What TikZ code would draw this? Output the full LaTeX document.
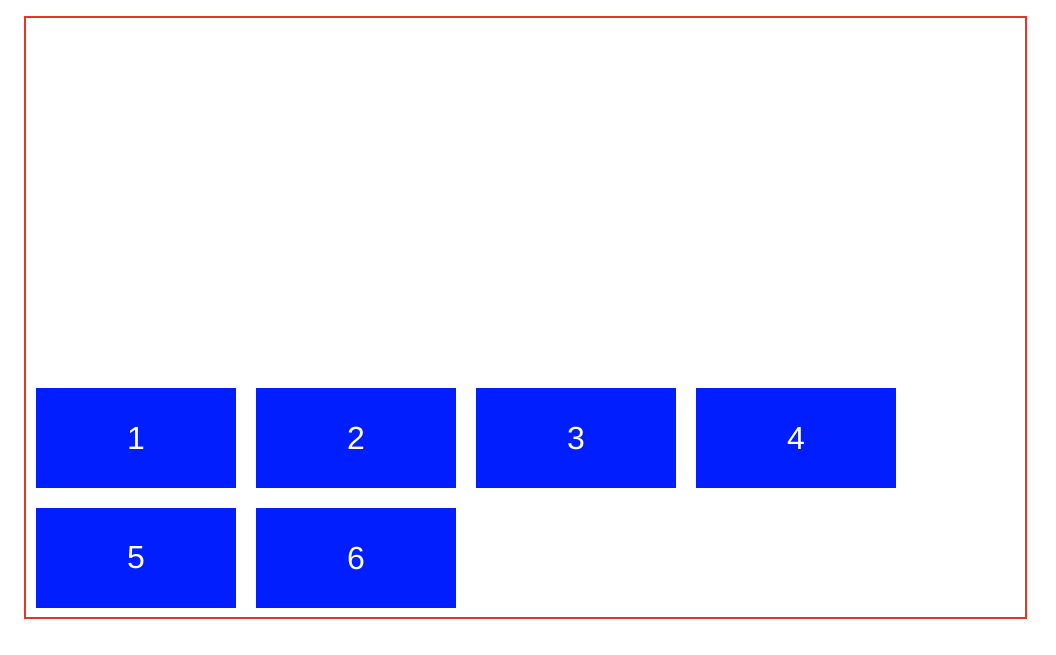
\documentclass[tikz,border=0pt]{standalone}
\usepackage{fontspec}
\setmainfont{Liberation Sans}
\definecolor{boxblue}{RGB}{0,30,255}
\definecolor{framered}{RGB}{233,53,40}

\begin{document}
\begin{tikzpicture}[x=1pt, y=-1pt,
    cell/.style={fill=boxblue, minimum width=200pt, minimum height=100pt,
      inner sep=0pt, text=white, font=\fontsize{32}{32}\selectfont}]
    \useasboundingbox (0,0) rectangle (1056,654);
    \draw[color=framered, line width=2pt] (25,17) rectangle (1026,618);

    \foreach \n/\x in {1/136,2/356,3/576,4/796}
      \node[cell] (b\n) at (\x, 438) {\n};

    \foreach \n/\x in {5/136,6/356}
      \node[cell] (b\n) at (\x, 558) {\n};
\end{tikzpicture}
\end{document}
